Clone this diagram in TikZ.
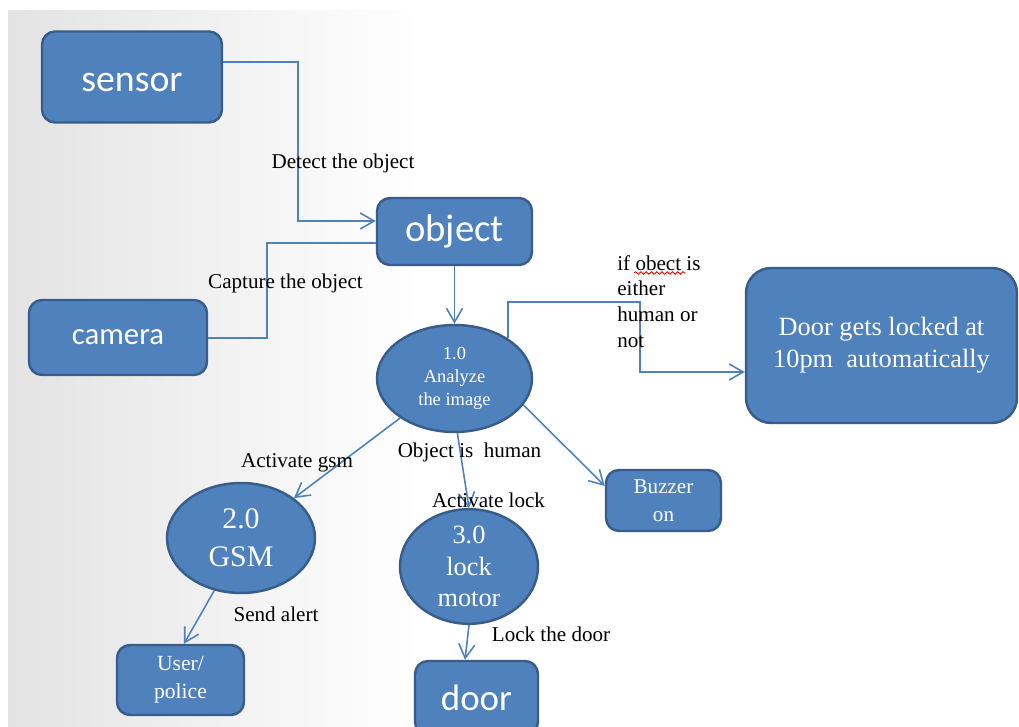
\documentclass[tikz,border=0pt]{standalone}
\usepackage{fontspec}
\setmainfont{Liberation Serif}
\newfontfamily\calfont{Carlito}
\usetikzlibrary{arrows.meta,shapes.geometric,decorations.pathmorphing}
\definecolor{boxfill}{HTML}{4F81BD}
\definecolor{boxline}{HTML}{385D8A}
\begin{document}
\begin{tikzpicture}[x=0.02cm,y=-0.02cm,
  box/.style={draw=boxline, line width=1.4pt, fill=boxfill, rounded corners=0.26cm, text=white, inner sep=0pt, align=center},
  ell/.style={ellipse, draw=boxline, line width=1.4pt, fill=boxfill, text=white, inner sep=0pt, align=center},
  conn/.style={draw=boxfill, line width=0.9pt},
  arr/.style={conn, -{Straight Barb[length=0.28cm,width=0.32cm]}},
  lbl/.style={font=\fontsize{12}{14}\selectfont, inner sep=0pt, text=black}]
\useasboundingbox (0,0) rectangle (1019,727);
\fill[white] (0,0) rectangle (1019,727);
\shade[left color=black!11, right color=white] (8,10) rectangle (420,727);
\fill[white] (420,10) rectangle (1019,727);

% nodes
\node[box, minimum width=3.6cm, minimum height=1.82cm, font=\calfont\fontsize{21.5}{24}\selectfont] (sensor) at (132,77) {\raisebox{-0.14em}[0.5em][0pt]{sensor}};
\node[box, minimum width=3.1cm, minimum height=1.34cm, font=\calfont\fontsize{22}{24}\selectfont] (object) at (454.5,231.5) {object};
\node[box, minimum width=3.56cm, minimum height=1.5cm, font=\calfont\fontsize{17.5}{20}\selectfont] (camera) at (118,337.5) {camera};
\node[ell, minimum width=3.1cm, minimum height=2.14cm, font=\fontsize{10.5}{13}\selectfont] (an) at (454.5,378.5) {1.0\\Analyze\\the image};
\node[box, rounded corners=0.5cm, minimum width=5.42cm, minimum height=3.1cm, font=\fontsize{15}{18}\selectfont] (doorbox) at (881.5,345.5) {Door gets locked at\\10pm\ \ automatically};
\node[box, minimum width=2.3cm, minimum height=1.22cm, font=\fontsize{12}{15.9}\selectfont] (buzzer) at (663.5,500.5) {Buzzer\\on};
\node[ell, minimum width=2.96cm, minimum height=2.2cm, font=\fontsize{17}{21.5}\selectfont] (gsm) at (241,538) {2.0\\GSM};
\node[ell, minimum width=2.76cm, minimum height=2.14cm, font=\fontsize{15}{18}\selectfont] (lock) at (469,566.5) {3.0\\lock\\motor};
\node[box, minimum width=2.54cm, minimum height=1.4cm, font=\fontsize{12.3}{15.9}\selectfont] (user) at (180.5,680) {User/\\police};
\node[box, minimum width=2.46cm, minimum height=1.48cm, font=\calfont\fontsize{21}{24}\selectfont] (door) at (476.5,698) {door};

% connectors
\coordinate (s1) at (298,62);
\coordinate (s2) at (298,221);
\draw[arr] (sensor.east |- s1) -- (s1) -- (s2) -- (object.west |- s2);
\coordinate (c1) at (267,338);
\coordinate (c2) at (267,243);
\draw[conn] (camera.east |- c1) -- (c1) -- (c2) -- (object.west |- c2);
\draw[arr] (object.south) -- (an.north);
\coordinate (d2) at (640,302);
\coordinate (d3) at (640,372);
\draw[arr] (an.37) |- (d2) -- (d3) -- (doorbox.west |- d3);
\draw[arr] (an.-21) -- ([yshift=0.29cm]buzzer.west);
\draw[arr] (an.-87) -- (lock.north);
\draw[arr] (an.-144) -- (gsm.37);
\draw[arr] (gsm.-117) -- ([xshift=0.07cm]user.north);
\draw[arr] (lock.south) -- ([xshift=-0.23cm]door.north);

% labels
\node[lbl] (l1) at (343,163) {Detect the object};
\node[lbl] (l2) at (285.5,283) {Capture the object};
\node[lbl, anchor=west, align=left, font=\fontsize{12}{14.7}\selectfont] (l3) at (617,301.5) {if obect is\\either\\human or\\not};
\draw[red, line width=0.5pt, decorate, decoration={snake, amplitude=0.7pt, segment length=3pt}] (634,273) -- (685,273);
\node[lbl] (l4) at (469.5,452) {Object is\ \ human};
\node[lbl] (l5) at (488.5,500) {Activate lock};
\node[lbl] (l6) at (297,463) {Activate gsm};
\node[lbl] (l7) at (276,614) {Send alert};
\node[lbl] (l8) at (551,634) {Lock the door};
\end{tikzpicture}
\end{document}
